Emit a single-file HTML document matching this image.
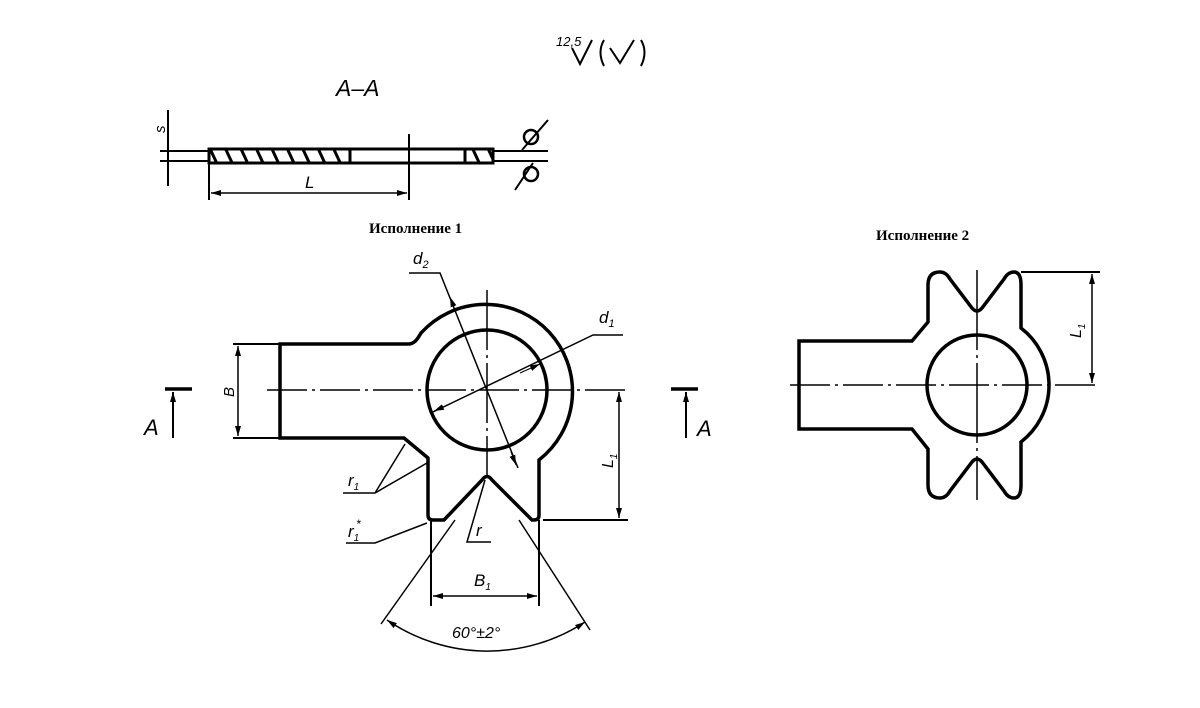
<!DOCTYPE html>
<html><head><meta charset="utf-8"><style>
html,body{margin:0;padding:0;background:#fff;}
svg{display:block;}
text{font-family:"Liberation Sans",sans-serif;font-style:italic;fill:#000;}
.t{font-family:"Liberation Serif","DejaVu Serif",serif;font-style:normal;font-weight:bold;font-size:15px;}
</style></head><body>
<svg width="1200" height="708" viewBox="0 0 1200 708" xmlns="http://www.w3.org/2000/svg">
<defs>
<marker id="ar" viewBox="0 0 10 6" refX="10" refY="3" markerWidth="10" markerHeight="6" orient="auto-start-reverse" markerUnits="userSpaceOnUse"><path d="M0,0 L10,3 L0,6 Z" fill="#000"/></marker>
<pattern id="h" patternUnits="userSpaceOnUse" width="14" height="14" patternTransform="rotate(-25)"><rect width="14" height="14" fill="#fff"/><rect width="3" height="14" fill="#000"/></pattern>
</defs>
<g fill="none" stroke="#000">
<!-- roughness -->
<text x="556" y="46" font-size="13" stroke="none">12,5</text>
<path d="M572,48 L580,64 L592,40" stroke-width="2"/>
<path d="M604,40 Q597,52 604,66" stroke-width="2"/>
<path d="M610,48 L620,63 L634,40" stroke-width="2"/>
<path d="M641,40 Q648,52 641,66" stroke-width="2"/>
<text x="336" y="96" font-size="23" stroke="none">A–A</text>

<!-- section view -->
<line x1="160" y1="151" x2="548" y2="151" stroke-width="2"/>
<line x1="160" y1="161" x2="548" y2="161" stroke-width="2"/>
<rect x="209" y="149" width="141" height="14" fill="url(#h)" stroke-width="3"/>
<rect x="350" y="149" width="115" height="14" fill="#fff" stroke-width="3"/>
<rect x="465" y="149" width="28" height="14" fill="url(#h)" stroke-width="3"/>
<line x1="168" y1="110" x2="168" y2="186" stroke-width="2"/>
<path d="M168,140 L168,151 M168,172 L168,161" stroke-width="1"/>
<text x="165" y="133" font-size="15" stroke="none" transform="rotate(-90 165 133)">s</text>
<line x1="209" y1="150" x2="209" y2="200" stroke-width="2"/>
<line x1="409" y1="134" x2="409" y2="200" stroke-width="2"/>
<line x1="211" y1="193" x2="407" y2="193" stroke-width="1.5" marker-start="url(#ar)" marker-end="url(#ar)"/>
<text x="305" y="188" font-size="17" stroke="none">L</text>
<circle cx="531" cy="137" r="7" stroke-width="2.5"/>
<line x1="522" y1="150" x2="548" y2="120" stroke-width="2"/>
<circle cx="531" cy="174" r="7" stroke-width="2.5"/>
<line x1="515" y1="190" x2="533" y2="163" stroke-width="2"/>

<text class="t" x="369" y="233" stroke="none">Исполнение 1</text>
<text class="t" x="876" y="240" stroke="none">Исполнение 2</text>

<!-- figure 1 -->
<path d="M280,344 L408,344 C415,344 418,338 421,333 A87,87 0 1 1 539,460 L539,515 Q539,520 534,520 L532,520 L492,480 Q487,473 482,480 L444,520 L433,520 Q428,520 428,515 L428,458 L404,438 L280,438 Z" stroke-width="3.5"/>
<circle cx="487" cy="390" r="60" stroke-width="3.5"/>
<line x1="267" y1="390" x2="628" y2="390" stroke-width="1.5" stroke-dasharray="40,5,3,5"/>
<line x1="487" y1="290" x2="487" y2="478" stroke-width="1.5" stroke-dasharray="60,5,3,5"/>
<line x1="233" y1="344" x2="280" y2="344" stroke-width="2"/>
<line x1="233" y1="438" x2="280" y2="438" stroke-width="2"/>
<line x1="238" y1="346" x2="238" y2="436" stroke-width="1.5" marker-start="url(#ar)" marker-end="url(#ar)"/>
<text x="234" y="397" font-size="15" stroke="none" transform="rotate(-90 234 397)">B</text>
<line x1="165" y1="389" x2="192" y2="389" stroke-width="3.5"/>
<line x1="173" y1="438" x2="173" y2="392" stroke-width="2" marker-end="url(#ar)"/>
<text x="144" y="435" font-size="22" stroke="none">A</text>
<line x1="671" y1="389" x2="698" y2="389" stroke-width="3.5"/>
<line x1="686" y1="438" x2="686" y2="392" stroke-width="2" marker-end="url(#ar)"/>
<text x="697" y="436" font-size="22" stroke="none">A</text>
<!-- d2 -->
<path d="M409,273 L440,273 L518,468" stroke-width="1.5"/>
<line x1="455" y1="310" x2="450" y2="297" stroke-width="1" marker-end="url(#ar)"/>
<line x1="511" y1="452" x2="516" y2="465" stroke-width="1" marker-end="url(#ar)"/>
<text x="413" y="264" font-size="17" stroke="none">d<tspan font-size="11" dy="4">2</tspan></text>
<!-- d1 -->
<path d="M623,335 L593,335 L433,412" stroke-width="1.5"/>
<line x1="520" y1="373" x2="540" y2="364" stroke-width="1" marker-end="url(#ar)"/>
<line x1="450" y1="404" x2="434" y2="411" stroke-width="1" marker-end="url(#ar)"/>
<text x="599" y="323" font-size="17" stroke="none">d<tspan font-size="11" dy="4">1</tspan></text>
<!-- L1 -->
<line x1="543" y1="520" x2="628" y2="520" stroke-width="2"/>
<line x1="619" y1="392" x2="619" y2="518" stroke-width="1.5" marker-start="url(#ar)" marker-end="url(#ar)"/>
<text x="613" y="468" font-size="16" stroke="none" transform="rotate(-90 613 468)">L<tspan font-size="10" dy="4">1</tspan></text>
<!-- r1 -->
<path d="M343,493 L375,493 L405,444 M375,493 L427,463" stroke-width="1.5"/>
<text x="348" y="486" font-size="17" stroke="none">r<tspan font-size="10" dy="4">1</tspan></text>
<path d="M346,543 L375,543 L427,523" stroke-width="1.5"/>
<text x="348" y="537" font-size="17" stroke="none">r<tspan font-size="10" dy="4">1</tspan></text>
<text x="356" y="528" font-size="12" stroke="none">*</text>
<path d="M491,542 L467,542 L485,480" stroke-width="1.5"/>
<text x="476" y="536" font-size="17" stroke="none">r</text>
<!-- B1 -->
<line x1="431" y1="520" x2="431" y2="606" stroke-width="2"/>
<line x1="539" y1="520" x2="539" y2="606" stroke-width="2"/>
<line x1="433" y1="596" x2="537" y2="596" stroke-width="1.5" marker-start="url(#ar)" marker-end="url(#ar)"/>
<text x="474" y="586" font-size="17" stroke="none">B<tspan font-size="10" dy="4">1</tspan></text>
<!-- 60 deg -->
<line x1="455" y1="520" x2="381" y2="624" stroke-width="1.5"/>
<line x1="519" y1="520" x2="590" y2="630" stroke-width="1.5"/>
<path d="M387,620 A178,178 0 0 0 585,622" stroke-width="1.5" marker-start="url(#ar)" marker-end="url(#ar)"/>
<text x="452" y="638" font-size="16" stroke="none">60°±2°</text>

<!-- figure 2 -->
<path d="M799,341 L912,341 L928,322 L928,285 Q928,272 940,272 Q946,272 950,279 L972,308 Q977,314 982,308 L1004,279 Q1008,272 1014,272 Q1021,272 1021,285 L1021,328 A72,72 0 0 1 1021,442 L1021,485 Q1021,498 1014,498 Q1008,498 1004,491 L982,462 Q977,456 972,462 L950,491 Q946,498 940,498 Q928,498 928,485 L928,449 L912,429 L799,429 Z" stroke-width="3.5"/>
<circle cx="977" cy="385" r="50" stroke-width="3.5"/>
<line x1="790" y1="385" x2="1100" y2="385" stroke-width="1.5" stroke-dasharray="40,5,3,5"/>
<line x1="977" y1="270" x2="977" y2="500" stroke-width="1.5" stroke-dasharray="80,5,3,5"/>
<line x1="1021" y1="272" x2="1100" y2="272" stroke-width="2"/>
<line x1="1092" y1="274" x2="1092" y2="383" stroke-width="1.5" marker-start="url(#ar)" marker-end="url(#ar)"/>
<text x="1081" y="338" font-size="16" stroke="none" transform="rotate(-90 1081 338)">L<tspan font-size="10" dy="4">1</tspan></text>
</g>
</svg>
</body></html>
